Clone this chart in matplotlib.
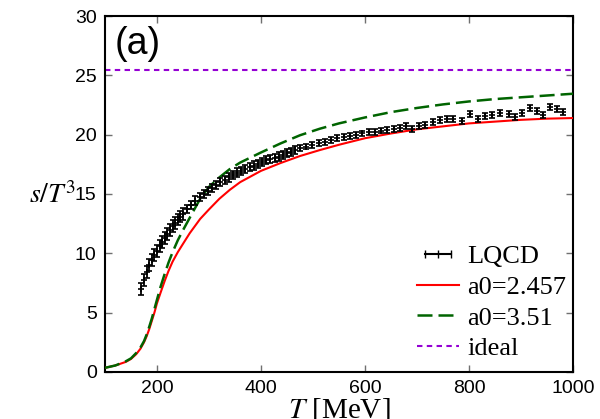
import numpy as np
import matplotlib
matplotlib.use("Agg")
import matplotlib.pyplot as plt
from matplotlib.lines import Line2D
from matplotlib.legend_handler import HandlerLine2D

# lattice QCD entropy density s/T^3
T_lqcd = [170, 175, 180, 185, 190, 195, 200, 205, 210, 215, 220, 225, 230, 235, 240, 245, 250,
          258, 266, 274, 282, 290, 298, 306, 314, 322, 330, 338, 346, 354, 362, 370, 378, 386,
          394, 402, 410, 418, 426, 434, 442, 450, 458, 466, 475, 487, 499, 511, 523, 535, 547,
          559, 571, 583, 595, 607, 619, 631, 643, 655, 667, 679, 691, 703, 715, 731, 744, 757,
          770, 786, 802, 818, 831, 844, 860, 876, 888, 901, 917, 930, 943, 956, 969, 981]
s_lqcd = [7.0, 7.75, 8.4, 9.0, 9.45, 9.85, 10.2, 10.6, 10.95, 11.3, 11.65, 12.0, 12.3, 12.55, 12.85, 13.1, 13.35,
          13.75, 14.1, 14.45, 14.75, 15.0, 15.25, 15.5, 15.75, 16.0, 16.2, 16.4, 16.6, 16.8, 16.95, 17.1, 17.25, 17.4,
          17.55, 17.7, 17.85, 17.95, 18.05, 18.15, 18.3, 18.45, 18.55, 18.7, 18.85, 19.0, 19.15, 19.3, 19.4, 19.55, 19.7,
          19.8, 19.9, 20.0, 20.1, 20.2, 20.25, 20.35, 20.4, 20.45, 20.55, 20.75, 20.5, 20.7, 20.85, 21.04, 21.24, 21.29,
          21.29, 21.17, 21.74, 21.29, 21.6, 21.66, 21.85, 21.74, 21.51, 21.85, 22.22, 22.02, 21.66, 22.36, 22.13, 21.88]
err_lqcd = [0.5] * 17 + [0.35] * 27 + [0.25] * 40

# model curves
T_model = [100, 120, 140, 150, 160, 168, 175, 180, 185, 190, 195, 200, 207, 215, 222, 230, 240, 250,
           263, 283, 300, 320, 340, 360, 400, 437, 475, 513, 550, 600, 650, 700, 750, 800, 850, 900,
           950, 1000]
s_a0_2457 = [0.35, 0.55, 0.85, 1.1, 1.5, 1.95, 2.5, 3.0, 3.6, 4.3, 5.0, 5.8, 6.7, 7.7, 8.5, 9.3, 10.1, 10.8,
             11.7, 12.9, 13.7, 14.6, 15.35, 16.0, 16.95, 17.6, 18.2, 18.7, 19.15, 19.7, 20.1, 20.45, 20.7, 20.95,
             21.1, 21.25, 21.35, 21.4]
s_a0_351 = [0.35, 0.55, 0.9, 1.15, 1.6, 2.05, 2.6, 3.15, 3.8, 4.5, 5.3, 6.1, 7.2, 8.3, 9.2, 10.1, 11.1, 11.95,
            13.0, 14.6, 15.6, 16.4, 17.1, 17.65, 18.5, 19.25, 19.95, 20.5, 20.95, 21.45, 21.9, 22.25, 22.55, 22.8,
            23.0, 23.15, 23.3, 23.45]
s_ideal = 25.44

serif = "Liberation Serif"
plt.rcParams["font.family"] = "Liberation Sans"
plt.rcParams["mathtext.fontset"] = "stix"

fig = plt.figure(figsize=(6.0, 4.19), dpi=100)
ax = fig.add_axes([0.175, 0.1122, 0.78, 0.8496])

ax.plot(T_model, s_a0_2457, color="#ff0000", linewidth=1.5, label="a0=2.457", zorder=3)
ax.plot(T_model, s_a0_351, color="#006400", linewidth=1.8, dashes=(6, 2.4), label="a0=3.51", zorder=3)
ax.axhline(s_ideal, color="#9400d3", linewidth=1.5, dashes=(2.6, 2.1), label="ideal")
ax.errorbar(T_lqcd, s_lqcd, yerr=err_lqcd, fmt="+", color="black", markersize=5, markeredgewidth=1.2,
            elinewidth=1.3, capsize=2.2, capthick=1.3, zorder=4)

ax.set_xlim(100, 1000)
ax.set_ylim(0, 30)
ax.set_xticks([200, 400, 600, 800, 1000])
ax.set_yticks([0, 5, 10, 15, 20, 25, 30])
ax.tick_params(direction="in", length=5, width=1, color="#707070", top=True, right=True,
               labelsize=14, pad=6)
for spine in ax.spines.values():
    spine.set_linewidth(1.5)

ax.set_ylabel("$s/T^3$", fontsize=20, rotation=0, ha="right", va="center")
ax.yaxis.set_label_coords(-0.062, 0.497)
ax.set_xlabel("$T$ [MeV]", fontsize=21, family=serif, va="top")
ax.xaxis.set_label_coords(0.5, -0.068)

ax.text(0.021, 0.921, "(a)", transform=ax.transAxes, fontsize=27, va="center", ha="left")

lqcd_handle = Line2D([], [], color="black", marker="|", markersize=6, linewidth=1.5)
handles = [lqcd_handle] + ax.get_lines()[:3]
labels = ["LQCD", "a0=2.457", "a0=3.51", "ideal"]
ax.legend(handles, labels, loc="lower right", bbox_to_anchor=(0.985, 0.033), frameon=False,
          prop={"family": serif, "size": 19}, handlelength=1.6, handletextpad=0.3,
          labelspacing=0.27, borderpad=0, borderaxespad=0,
          handler_map={lqcd_handle: HandlerLine2D(numpoints=3)})

fig.savefig("out.png", dpi=100)
